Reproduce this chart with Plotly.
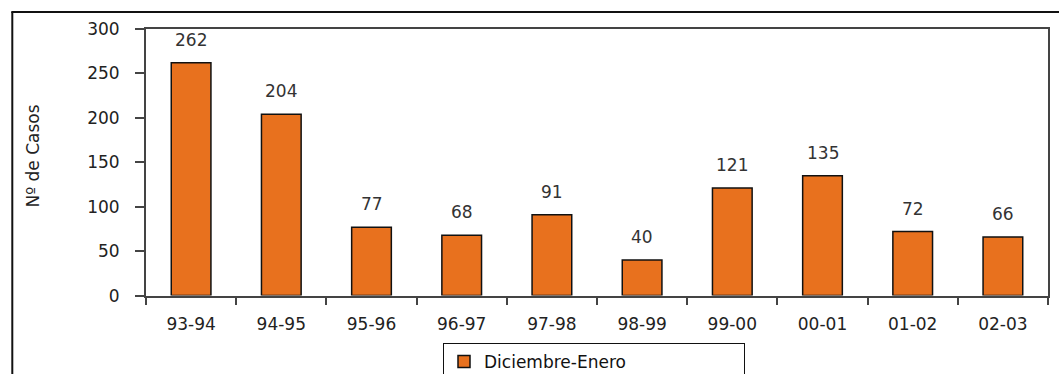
import plotly.graph_objects as go

seasons = ["93-94", "94-95", "95-96", "96-97", "97-98", "98-99", "99-00", "00-01", "01-02", "02-03"]
cases = [262, 204, 77, 68, 91, 40, 121, 135, 72, 66]
series_name = "Diciembre-Enero"
y_ticks = [0, 50, 100, 150, 200, 250, 300]

W, H = 1059, 374
L, R, T, B = 146, 9, 29, 77
pw, ph = W - L - R, H - T - B

def px_x(x):
    return (x - L) / pw

def px_y(y):
    return (H - B - y) / ph

FONT = "DejaVu Sans"

fig = go.Figure()
fig.add_trace(go.Bar(
    x=seasons, y=cases, name=series_name,
    marker=dict(color="#E8711E", line=dict(color="#111111", width=1.5)),
    width=0.44,
    showlegend=True,
))

value_labels = [
    dict(x=s, y=v, text=str(v), xref="x", yref="y", showarrow=False,
         xanchor="center", yanchor="bottom", yshift=11,
         font=dict(family=FONT, size=17, color="#333333"))
    for s, v in zip(seasons, cases)
]

fig.update_layout(
    width=W, height=H,
    margin=dict(l=L, r=R, t=T, b=B),
    paper_bgcolor="white", plot_bgcolor="white",
    font=dict(family=FONT, size=15, color="#222222"),
    showlegend=True,
    legend=dict(
        orientation="h",
        xref="container", yref="container",
        x=443 / W, y=1 - 343 / H, xanchor="left", yanchor="top",
        bordercolor="#111111", borderwidth=1,
        font=dict(family=FONT, size=17, color="#111111"),
        entrywidth=255, entrywidthmode="pixels",
        itemwidth=30,
    ),
    xaxis=dict(
        type="category",
        showline=True, linecolor="#444444", linewidth=2, mirror=True,
        ticks="outside", ticklen=7, tickcolor="#444444", tickwidth=1.5,
        tickson="boundaries", showgrid=False, ticklabelstandoff=12,
        tickfont=dict(family=FONT, size=17, color="#222222"),
    ),
    yaxis=dict(
        range=[0, 300], tickvals=y_ticks,
        showline=True, linecolor="#444444", linewidth=2, mirror=True,
        ticks="outside", ticklen=9, tickcolor="#444444", tickwidth=1.5,
        showgrid=False, zeroline=False, ticklabelstandoff=12,
        tickfont=dict(family=FONT, size=17, color="#222222"),
    ),
    shapes=[
        dict(type="line", xref="paper", yref="paper",
             x0=px_x(12), x1=px_x(12), y0=px_y(12), y1=px_y(380),
             line=dict(color="#111111", width=2)),
        dict(type="line", xref="paper", yref="paper",
             x0=px_x(11), x1=px_x(1065), y0=px_y(12), y1=px_y(12),
             line=dict(color="#111111", width=2)),
    ],
    annotations=value_labels + [
        dict(text="Nº de Casos", xref="paper", yref="paper",
             x=px_x(33), y=px_y(157), textangle=-90, showarrow=False,
             xanchor="center", yanchor="middle",
             font=dict(family=FONT, size=17, color="#222222")),
    ],
)

fig.write_html("out.html")
